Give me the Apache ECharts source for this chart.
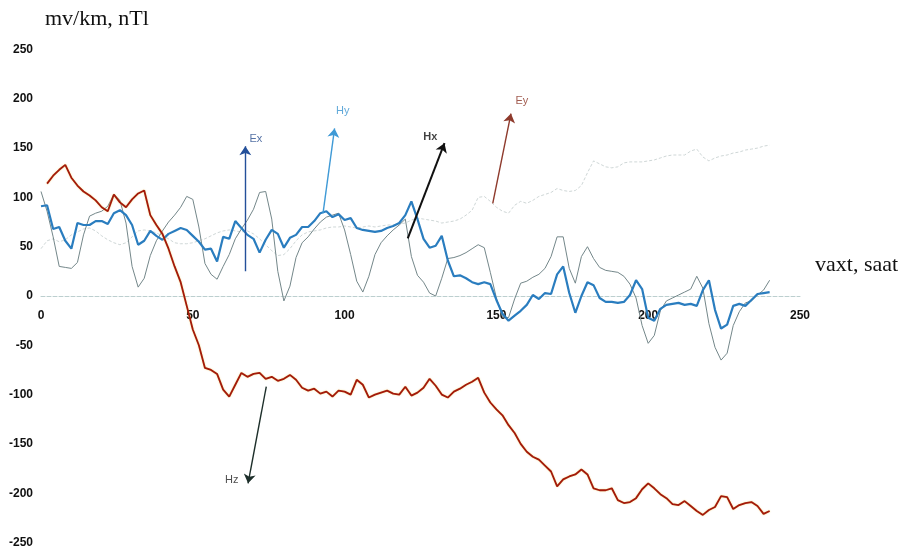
<!DOCTYPE html>
<html>
<head>
<meta charset="utf-8">
<script src="https://cdn.jsdelivr.net/npm/echarts@6/dist/echarts.min.js"></script>
<style>
  html, body { margin: 0; padding: 0; background: #ffffff; }
  #chart { width: 905px; height: 560px; }
</style>
</head>
<body>
<div id="chart"></div>
<script>
// Sampling grid, hours (every 2 h)
const hours = Array.from({ length: 121 }, (_, i) => i * 2);

// Axis ticks
const xTicks = [0, 50, 100, 150, 200, 250];
const yTicks = [-250, -200, -150, -100, -50, 0, 50, 100, 150, 200, 250];

// Electric field Ex, mV/km
const ex = [
  106, 86, 60, 30, 29, 28, 34, 62, 81, 84,
  86, 91, 103, 97, 74, 30, 9, 18, 41, 56,
  66, 75, 82, 90, 101, 98, 70, 33, 22, 17,
  30, 42, 58, 68, 77, 88, 105, 106, 78, 25,
  -5, 10, 39, 54, 60, 68, 75, 80, 82, 84,
  67, 42, 15, 4, 20, 42, 54, 61, 67, 72,
  78, 40, 21, 14, 3, 0, 18, 38, 39, 41,
  44, 48, 52, 49, 24, -2, -21, -22, -3, 13,
  15, 19, 22, 28, 40, 60, 60, 28, 13, 40,
  50, 38, 29, 26, 25, 24, 20, 12, -2, -30,
  -48, -40, -15, -5, -2, 1, 4, 7, 20, 8,
  -28, -52, -65, -58, -30, -16, -7, -5, 1, 6,
  16
];

// Electric field Ey, mV/km
const ey = [
  48, 56, 58, 55, 57, 62, 65, 68, 69, 66,
  61, 57, 54, 52, 54, 60, 66, 67, 66, 64,
  61, 58, 54, 53, 53, 54, 56, 58, 61, 64,
  66, 67, 66, 65, 66, 63, 58, 52, 46, 41,
  42, 48, 56, 62, 65, 66, 67, 69, 70, 70,
  71, 70, 69, 70, 71, 70, 71, 72, 72, 73,
  74, 77, 79, 78, 77, 76, 74, 75, 76, 78,
  82, 87, 100, 101, 96, 90, 86, 84, 92, 96,
  94, 97, 101, 103, 105, 109, 107, 106, 107, 112,
  125, 137, 134, 131, 130, 131, 135, 136, 136, 136,
  137, 138, 140, 142, 143, 143, 143, 147, 149, 141,
  137, 140, 142, 143, 145, 146, 148, 149, 150, 152,
  153
];

// Magnetic field Hy, nT
const hy = [
  91, 92, 68, 70, 56, 48, 74, 72, 72, 76,
  76, 73, 84, 87, 82, 72, 52, 56, 66, 61,
  57, 63, 66, 69, 67, 61, 55, 47, 48, 35,
  60, 58, 76, 69, 62, 58, 44, 57, 67, 63,
  49, 59, 62, 70, 70, 76, 84, 86, 80, 83,
  77, 79, 69, 67, 66, 65, 66, 69, 71, 74,
  82, 96, 78, 58, 49, 51, 61, 36, 20, 21,
  18, 14, 12, 14, 12, -4, -18, -25, -20, -15,
  -9, 1, -3, 3, 2, 22, 30, 3, -17, 0,
  14, 11, -2, -6, -6, -7, -6, 1, 16, 7,
  -22, -25, -13, -9, -8, -7, -9, -8, -10, 6,
  16, -14, -33, -29, -10, -8, -10, -4, 2, 3,
  4
];

// Magnetic field Hz, nT
const hz = [
  null, 114, 122, 128, 133, 120, 112, 106, 102, 97,
  90, 86, 103, 95, 90, 98, 104, 107, 82, 72,
  63, 48, 30, 14, -10, -34, -50, -73, -75, -79,
  -95, -102, -90, -78, -82, -79, -78, -84, -82, -86,
  -84, -80, -85, -93, -96, -94, -99, -97, -102, -96,
  -97, -100, -85, -90, -103, -100, -98, -96, -99, -100,
  -92, -101, -98, -93, -84, -91, -100, -103, -97, -94,
  -90, -87, -83, -98, -108, -115, -121, -131, -139, -150,
  -158, -163, -166, -172, -178, -193, -186, -183, -181, -176,
  -181, -195, -197, -197, -195, -207, -210, -209, -205, -196,
  -190, -195, -201, -205, -211, -212, -208, -213, -218, -222,
  -217, -214, -203, -204, -216, -212, -210, -209, -213, -221,
  -218
];

// Component pointers: tail and head in (hour, value) units
const arrowNames = ['Ex', 'Hy', 'Hx', 'Ey', 'Hz'];
const arrowTails = [[67.3, 25], [92.9, 84], [120.8, 58.5], [148.8, 94], [74.2, -92]];
const arrowHeads = [[67.3, 152], [96.7, 170], [132.9, 155], [154.8, 185], [68.2, -190]];
const labelSpots = [[70.8, 159], [99.4, 188], [128.2, 161], [158.4, 198], [62.8, -187]];

const arrowColors = ['#24509a', '#3f9ad6', '#111111', '#8e3a2c', '#1d2f2a'];
const arrowWidths = [1.4, 1.4, 2, 1.4, 1.4];
const labelColors = ['#2b4f8f', '#3a93cf', '#111111', '#8a3324', '#222222'];
const labelWeights = ['normal', 'normal', 'bold', 'normal', 'normal'];

const pair = (vals) => hours.map((h, i) => [h, vals[i]]);

const chart = echarts.init(document.getElementById('chart'), null, { renderer: 'canvas' });

const axisFont = { fontFamily: 'Arial, "Liberation Sans", sans-serif', fontSize: 12, fontWeight: 'bold', color: '#111' };

chart.setOption({
  animation: false,
  backgroundColor: '#ffffff',
  title: [
    {
      text: 'mv/km, nTl', left: 40, top: 3,
      textStyle: { fontFamily: '"Liberation Serif", "Times New Roman", serif', fontSize: 22, fontWeight: 'normal', color: '#111' }
    },
    {
      text: 'vaxt, saat', left: 810, top: 249,
      textStyle: { fontFamily: '"Liberation Serif", "Times New Roman", serif', fontSize: 22, fontWeight: 'normal', color: '#111' }
    }
  ],
  grid: { left: 41, right: 105, top: 49.5, bottom: 17.5, containLabel: false, outerBoundsMode: 'none' },
  xAxis: {
    type: 'value', min: xTicks[0], max: xTicks[xTicks.length - 1], interval: 50,
    axisLine: { show: true, onZero: true, lineStyle: { color: '#bccfcf', width: 1, type: [4, 2] } },
    axisTick: { show: false },
    splitLine: { show: false },
    // tick labels sit just under the zero line
    axisLabel: Object.assign({ margin: -233 }, axisFont)
  },
  yAxis: {
    type: 'value', min: yTicks[0], max: yTicks[yTicks.length - 1], interval: 50,
    axisLine: { show: false },
    axisTick: { show: false },
    splitLine: { show: false },
    axisLabel: Object.assign({ margin: 8 }, axisFont)
  },
  series: [
    {
      name: 'Ey', type: 'line', data: pair(ey), showSymbol: false, symbol: 'none',
      lineStyle: { color: '#cfd7d7', width: 1, type: [3, 2] }, z: 1
    },
    {
      name: 'Ex', type: 'line', data: pair(ex), showSymbol: false, symbol: 'none',
      lineStyle: { color: '#74878a', width: 1 }, z: 2
    },
    {
      name: 'Hy', type: 'line', data: pair(hy), showSymbol: false, symbol: 'none',
      lineStyle: { color: '#2a7dbf', width: 2.2 }, z: 3
    },
    {
      name: 'Hz', type: 'line', data: pair(hz), showSymbol: false, symbol: 'none', connectNulls: false,
      lineStyle: { color: '#a3190b', width: 1.8, shadowColor: 'rgba(230,190,40,0.6)', shadowBlur: 1.5 }, z: 4
    },
    {
      name: 'pointers', type: 'lines', coordinateSystem: 'cartesian2d', z: 5,
      symbol: ['none', 'arrow'], symbolSize: 9, silent: true,
      data: arrowNames.map((n, i) => ({
        name: n,
        coords: [arrowTails[i], arrowHeads[i]],
        lineStyle: { color: arrowColors[i], width: arrowWidths[i], opacity: 1 }
      }))
    },
    {
      name: 'pointer labels', type: 'scatter', symbolSize: 0, z: 6, silent: true,
      data: arrowNames.map((n, i) => ({
        name: n, value: labelSpots[i],
        label: {
          show: true, position: 'inside', formatter: n,
          fontFamily: 'Arial, "Liberation Sans", sans-serif', fontSize: 11,
          fontWeight: labelWeights[i], color: labelColors[i]
        }
      }))
    }
  ]
});
</script>
</body>
</html>
